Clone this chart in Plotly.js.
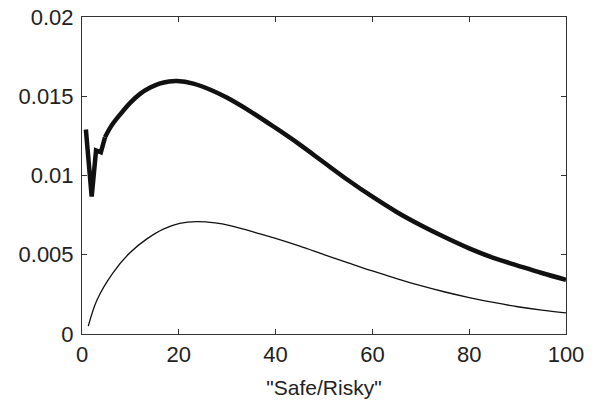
<!DOCTYPE html>
<html>
<head>
<meta charset="utf-8">
<script src="https://cdn.plot.ly/plotly-3.0.1.min.js"></script>
<style>html,body{margin:0;padding:0;background:#fff;}#chart{width:595px;height:412px;}</style>
</head>
<body>
<div id="chart"></div>
<script>
// Thick curve
var thickX = [0.8, 2.0, 2.9, 3.9, 4.75, 6, 7.9, 10, 12, 14, 16, 18, 19.6, 23, 27, 30, 35, 40, 45, 50, 55, 60, 65, 70, 75, 80, 85, 90, 95, 100];
var thickY = [0.0129, 0.00867, 0.01158, 0.01146, 0.01241, 0.01310, 0.01386, 0.01460, 0.01515, 0.01553, 0.01580, 0.01593, 0.01596, 0.01580, 0.01535, 0.01490, 0.01400, 0.01300, 0.01195, 0.01082, 0.00970, 0.00866, 0.00770, 0.00686, 0.00610, 0.00540, 0.00480, 0.00432, 0.00385, 0.00342];
// Thin curve
var thinX = [1.3, 3.1, 6.4, 9.9, 13.4, 16.8, 20.2, 23.7, 27.5, 30.6, 36.8, 40, 45, 50, 55, 60, 65, 70, 75, 80, 85, 90, 95, 100];
var thinY = [0.0005, 0.00215, 0.00386, 0.00513, 0.00600, 0.00662, 0.00698, 0.00709, 0.00701, 0.00684, 0.00632, 0.00603, 0.00554, 0.00501, 0.00449, 0.00398, 0.00350, 0.00305, 0.00265, 0.00230, 0.00199, 0.00172, 0.00150, 0.00133];
var xTicks = [0, 20, 40, 60, 80, 100];
var yTicks = [0, 0.005, 0.01, 0.015, 0.02];
var yTickText = ["0", "0.005", "0.01", "0.015", "0.02"];
var xTitle = '"Safe/Risky"';

var kinkEnd = 5; // first points drawn straight (jagged start), rest smooth
var traces = [
  {x: thickX.slice(0, kinkEnd), y: thickY.slice(0, kinkEnd), mode: 'lines', line: {color: '#111', width: 4.5, shape: 'linear'}, hoverinfo: 'skip'},
  {x: thickX.slice(kinkEnd - 1), y: thickY.slice(kinkEnd - 1), mode: 'lines', line: {color: '#111', width: 4.5, shape: 'spline', smoothing: 1}, hoverinfo: 'skip'},
  {x: thinX, y: thinY, mode: 'lines', line: {color: '#111', width: 1.3, shape: 'spline', smoothing: 1}, hoverinfo: 'skip'}
];
var layout = {
  width: 595, height: 412,
  margin: {l: 82, r: 29, t: 17, b: 78},
  paper_bgcolor: '#fff', plot_bgcolor: '#fff',
  showlegend: false,
  font: {family: 'Liberation Sans, Arial, sans-serif', size: 22, color: '#222'},
  xaxis: {
    range: [0, 100], tickvals: xTicks, ticktext: xTicks.map(String),
    ticks: 'inside', ticklen: 5, tickcolor: '#333', mirror: 'ticks',
    showline: true, linecolor: '#333', linewidth: 1, showgrid: false, zeroline: false,
    title: {text: xTitle, font: {size: 21}, standoff: 13},
    tickfont: {size: 22}, ticklabelstandoff: 1
  },
  yaxis: {
    range: [0, 0.02], tickvals: yTicks, ticktext: yTickText,
    ticks: 'inside', ticklen: 5, tickcolor: '#333', mirror: 'ticks',
    showline: true, linecolor: '#333', linewidth: 1, showgrid: false, zeroline: false,
    tickfont: {size: 22}, ticklabelstandoff: 3
  }
};
Plotly.newPlot('chart', traces, layout, {staticPlot: true, displayModeBar: false});
</script>
</body>
</html>
